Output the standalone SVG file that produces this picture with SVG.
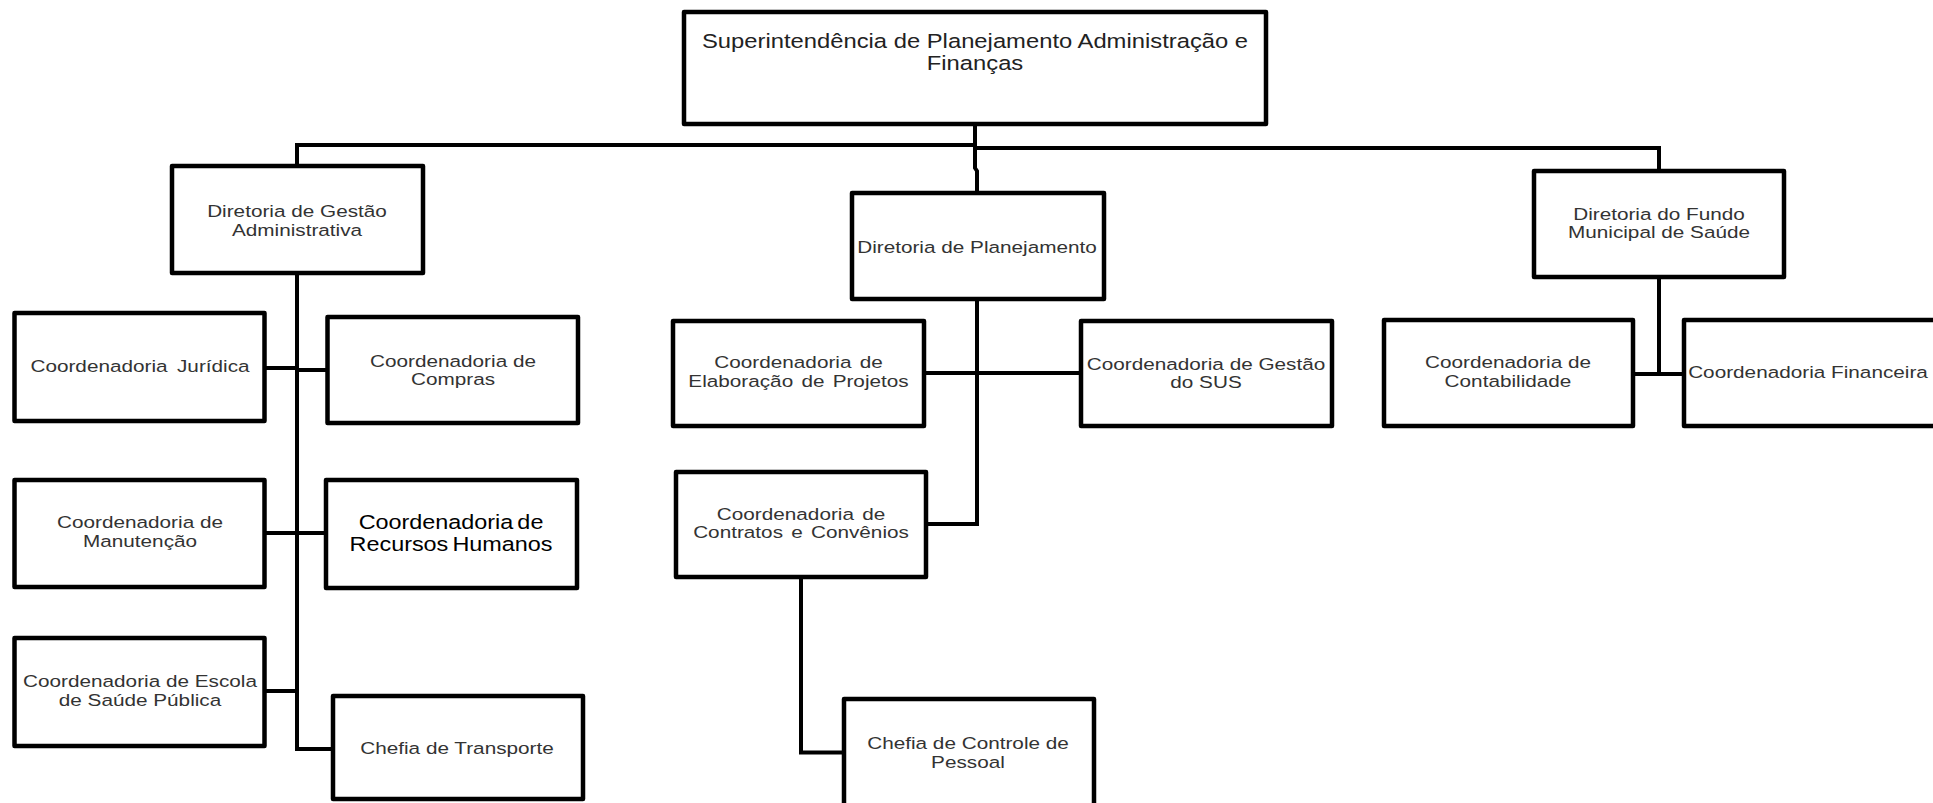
<svg xmlns="http://www.w3.org/2000/svg" width="1933" height="803" viewBox="0 0 1933 803">
<style>
  .box { fill: #ffffff; stroke: #000000; stroke-width: 4.5; stroke-linejoin: round; }
  .conn { fill: none; stroke: #000000; stroke-width: 4; stroke-linejoin: miter; }
  .t { font-family: "Liberation Sans", Arial, sans-serif; font-size: 17px; fill: #333333; text-anchor: middle; }
  .big { font-size: 19.5px; fill: #222222; }
  .rh { font-size: 19.5px; fill: #000000; }
</style>
<rect x="0" y="0" width="1933" height="803" fill="#ffffff"/>
<g id="connectors">
  <path class="conn" d="M975,124 V168 L977,171 V193"/>
  <path class="conn" d="M975,145 H297 V166"/>
  <path class="conn" d="M975,148 H1659 V171"/>
  <path class="conn" d="M297,273 V749 H333"/>
  <path class="conn" d="M264.5,368 H297"/>
  <path class="conn" d="M297,370 H327.5"/>
  <path class="conn" d="M264.5,533 H326"/>
  <path class="conn" d="M264.5,691 H297"/>
  <path class="conn" d="M977,299 V524 H926"/>
  <path class="conn" d="M924,373 H1081"/>
  <path class="conn" d="M801,577 V752.5 H844"/>
  <path class="conn" d="M1659,277 V374"/>
  <path class="conn" d="M1633,374 H1684"/>
</g>
<g id="superintendencia">
  <rect class="box" x="684" y="12" width="582" height="112"/>
  <text class="t big" transform="translate(975,0) scale(1.22,1)" x="0" y="48">Superintendência de Planejamento Administração e</text>
  <text class="t big" transform="translate(975,0) scale(1.22,1)" x="0" y="70">Finanças</text>
</g>
<g id="dir-gestao-adm">
  <rect class="box" x="172" y="166" width="251" height="107"/>
  <text class="t" transform="translate(297,0) scale(1.22,1)" x="0" y="217">Diretoria de Gestão</text>
  <text class="t" transform="translate(297,0) scale(1.22,1)" x="0" y="236">Administrativa</text>
</g>
<g id="dir-planejamento">
  <rect class="box" x="852" y="193" width="252" height="106"/>
  <text class="t" transform="translate(977,0) scale(1.22,1)" x="0" y="253">Diretoria de Planejamento</text>
</g>
<g id="dir-fundo">
  <rect class="box" x="1534" y="171" width="250" height="106"/>
  <text class="t" transform="translate(1659,0) scale(1.22,1)" x="0" y="220.5">Diretoria do Fundo</text>
  <text class="t" transform="translate(1659,0) scale(1.22,1)" x="0" y="238.5">Municipal de Saúde</text>
</g>
<g id="coord-juridica">
  <rect class="box" x="14.5" y="313" width="250" height="108"/>
  <text class="t" transform="translate(140,0) scale(1.22,1)" x="0" y="372.5" word-spacing="3">Coordenadoria Jurídica</text>
</g>
<g id="coord-compras">
  <rect class="box" x="327.5" y="317" width="250.5" height="106"/>
  <text class="t" transform="translate(453,0) scale(1.22,1)" x="0" y="367.5">Coordenadoria de</text>
  <text class="t" transform="translate(453,0) scale(1.22,1)" x="0" y="385.5">Compras</text>
</g>
<g id="coord-manutencao">
  <rect class="box" x="14.5" y="480" width="250" height="107"/>
  <text class="t" transform="translate(140,0) scale(1.22,1)" x="0" y="528.5">Coordenadoria de</text>
  <text class="t" transform="translate(140,0) scale(1.22,1)" x="0" y="547.5">Manutenção</text>
</g>
<g id="coord-rh">
  <rect class="box" x="326" y="480" width="251" height="108"/>
  <text class="t rh" transform="translate(451,0) scale(1.2,1)" x="0" y="529.5" word-spacing="-2">Coordenadoria de</text>
  <text class="t rh" transform="translate(451,0) scale(1.2,1)" x="0" y="551" word-spacing="-2">Recursos Humanos</text>
</g>
<g id="coord-escola">
  <rect class="box" x="14.5" y="638" width="250" height="108"/>
  <text class="t" transform="translate(140,0) scale(1.22,1)" x="0" y="687.5">Coordenadoria de Escola</text>
  <text class="t" transform="translate(140,0) scale(1.22,1)" x="0" y="706.5">de Saúde Pública</text>
</g>
<g id="chefia-transporte">
  <rect class="box" x="333" y="696" width="250" height="103"/>
  <text class="t" transform="translate(457,0) scale(1.22,1)" x="0" y="754.5">Chefia de Transporte</text>
</g>
<g id="coord-elaboracao">
  <rect class="box" x="673" y="321" width="251" height="105"/>
  <text class="t" transform="translate(798.5,0) scale(1.22,1)" x="0" y="368.5" word-spacing="2">Coordenadoria de</text>
  <text class="t" transform="translate(798.5,0) scale(1.22,1)" x="0" y="387.5" word-spacing="2">Elaboração de Projetos</text>
</g>
<g id="coord-sus">
  <rect class="box" x="1081" y="321" width="251" height="105"/>
  <text class="t" transform="translate(1206,0) scale(1.22,1)" x="0" y="370.5">Coordenadoria de Gestão</text>
  <text class="t" transform="translate(1206,0) scale(1.22,1)" x="0" y="388.5">do SUS</text>
</g>
<g id="coord-contratos">
  <rect class="box" x="676" y="472" width="250" height="105"/>
  <text class="t" transform="translate(801,0) scale(1.22,1)" x="0" y="520.5" word-spacing="2">Coordenadoria de</text>
  <text class="t" transform="translate(801,0) scale(1.22,1)" x="0" y="538.5" word-spacing="2">Contratos e Convênios</text>
</g>
<g id="chefia-controle">
  <rect class="box" x="844" y="699" width="250" height="120"/>
  <text class="t" transform="translate(968,0) scale(1.22,1)" x="0" y="749.5">Chefia de Controle de</text>
  <text class="t" transform="translate(968,0) scale(1.22,1)" x="0" y="768.5">Pessoal</text>
</g>
<g id="coord-contabilidade">
  <rect class="box" x="1384" y="320" width="249" height="106"/>
  <text class="t" transform="translate(1508,0) scale(1.22,1)" x="0" y="368.5">Coordenadoria de</text>
  <text class="t" transform="translate(1508,0) scale(1.22,1)" x="0" y="387.5">Contabilidade</text>
</g>
<g id="coord-financeira">
  <rect class="box" x="1684" y="320" width="270" height="106"/>
  <text class="t" transform="translate(1808,0) scale(1.22,1)" x="0" y="378.5">Coordenadoria Financeira</text>
</g>
</svg>
